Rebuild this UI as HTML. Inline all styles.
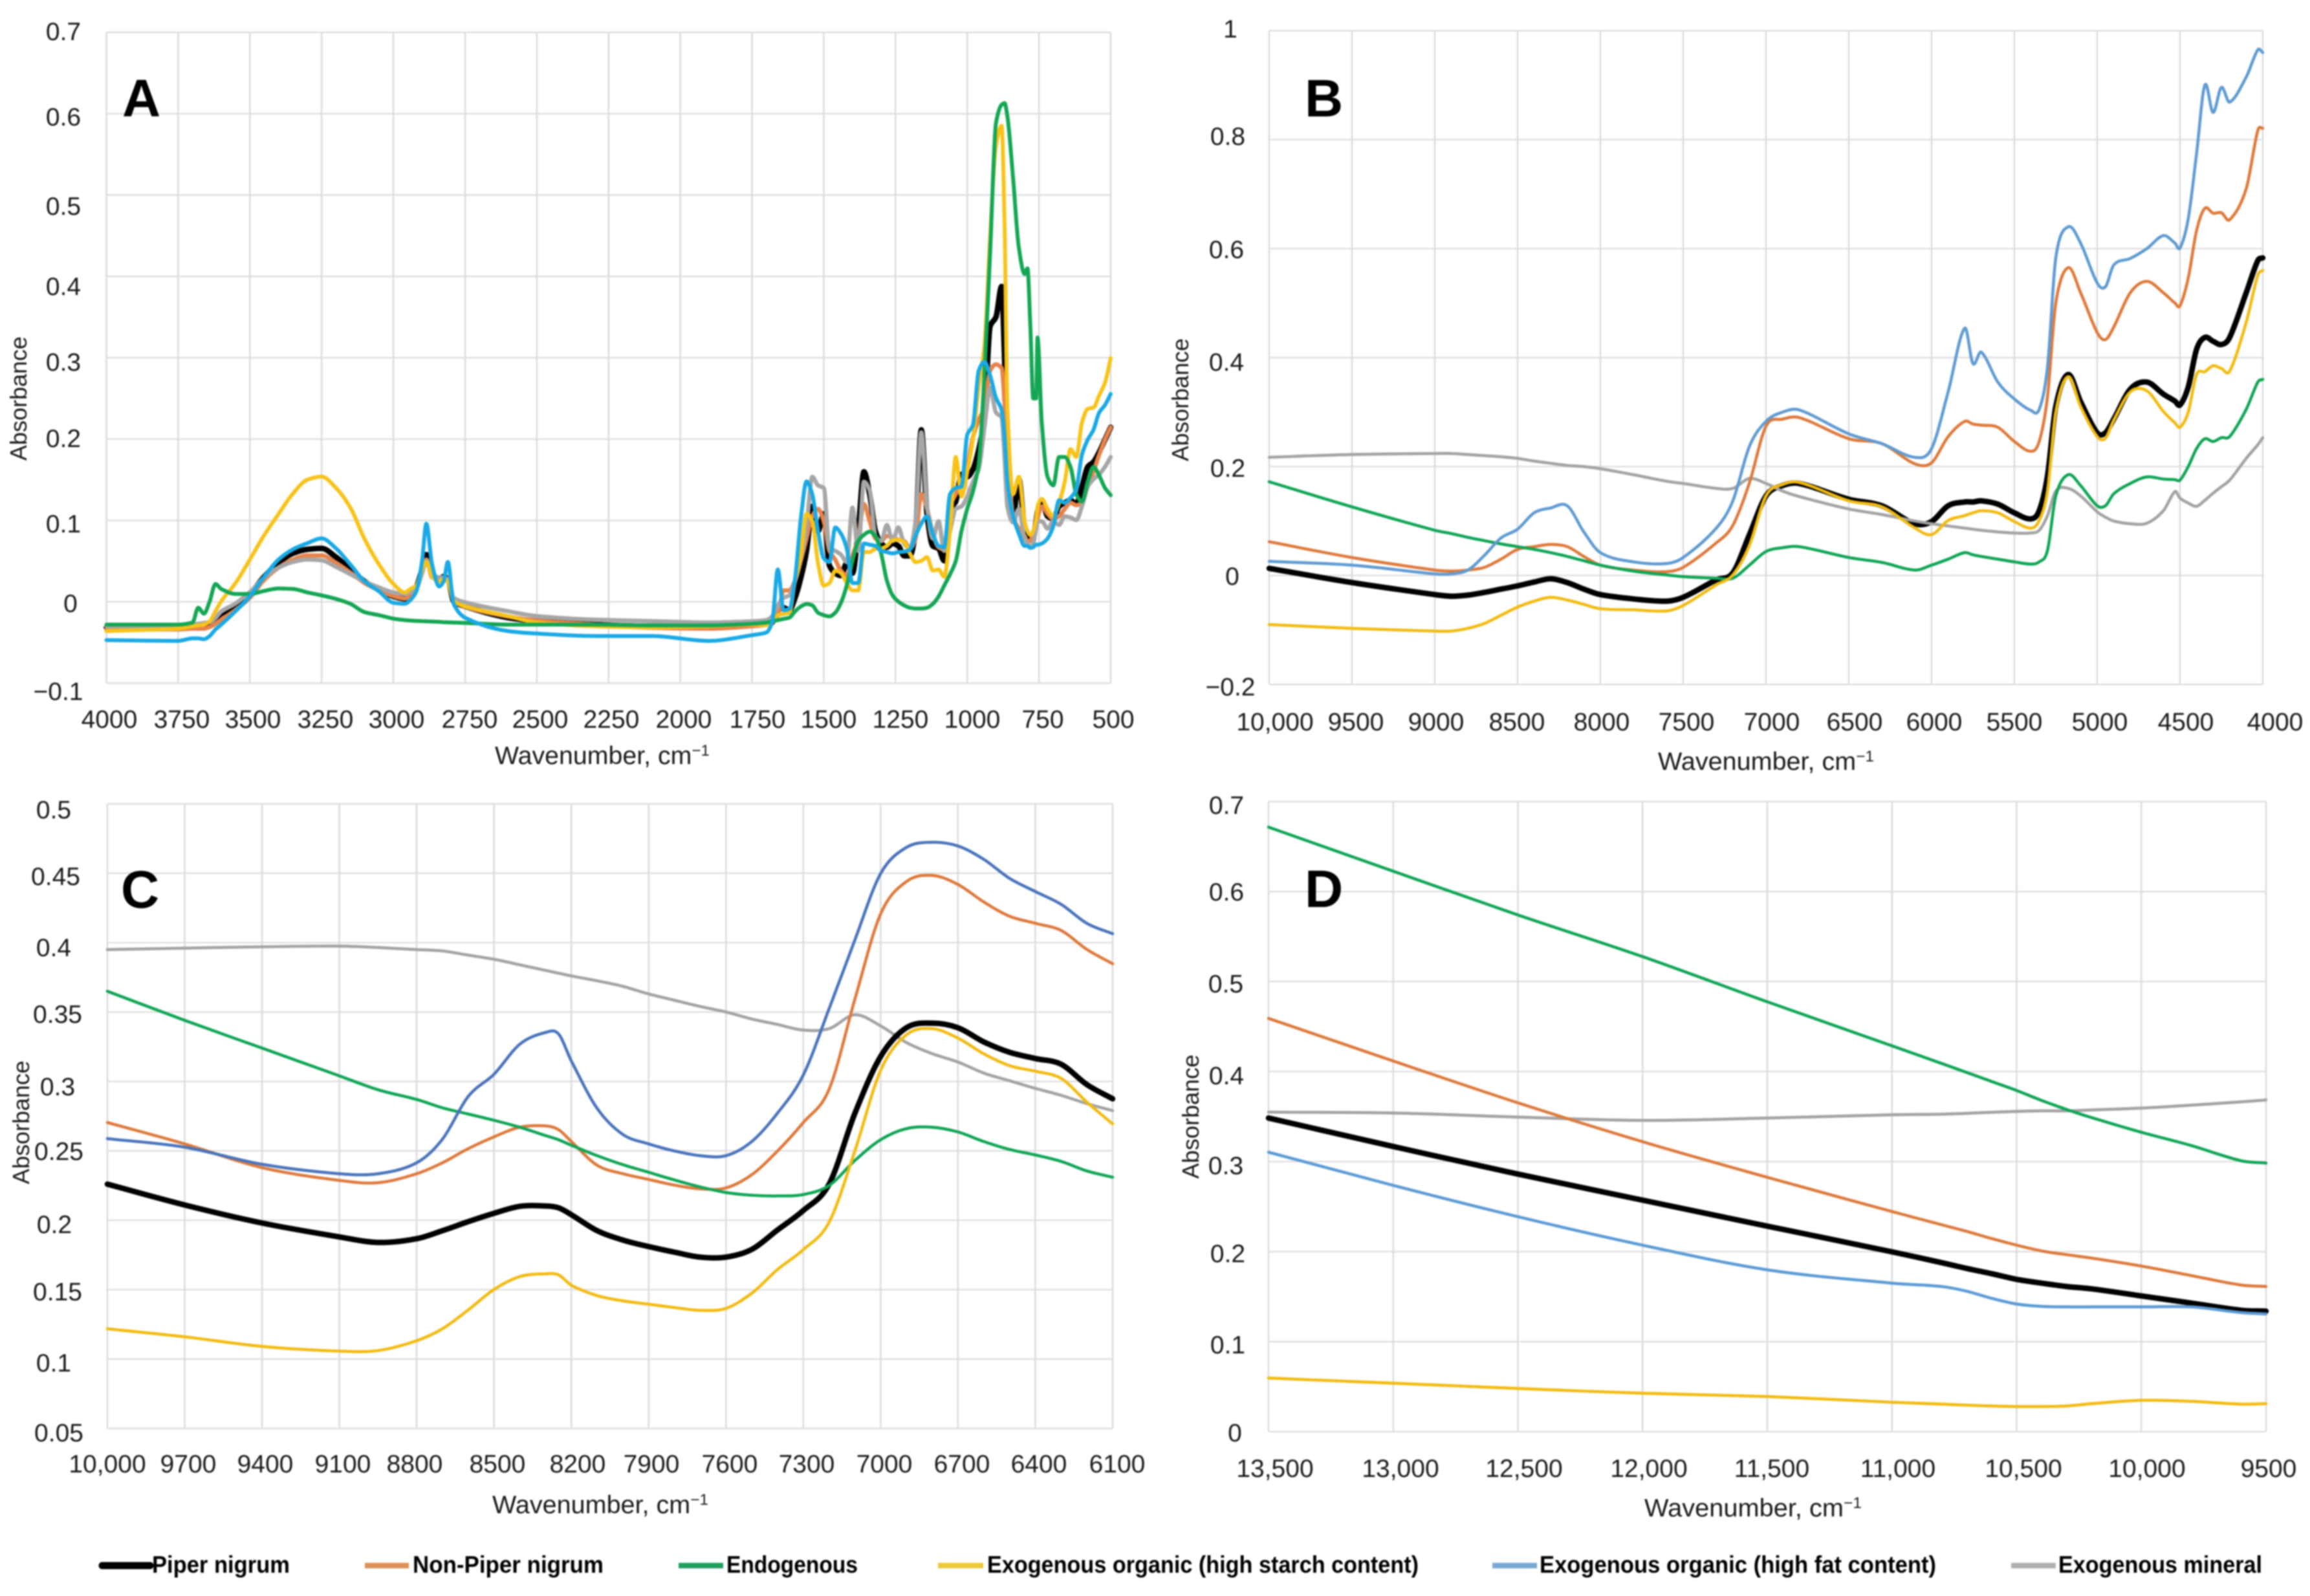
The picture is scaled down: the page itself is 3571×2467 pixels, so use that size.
<!DOCTYPE html>
<html lang="en">
<head>
<meta charset="utf-8">
<title>Absorbance spectra panels A-D</title>
<style>
html,body{margin:0;padding:0;background:#fff;}
svg{display:block;filter:blur(1px);}
text{font-family:"Liberation Sans",sans-serif;fill:#1a1a1a;}
.tick{font-size:39px;text-anchor:middle;}
.xlab{font-size:39px;}
.ylab{font-size:36px;text-anchor:middle;}
.letter{font-size:82px;font-weight:bold;fill:#000;}
.leg{font-size:37px;font-weight:bold;fill:#000;}
</style>
</head>
<body>
<svg id="figure" xmlns="http://www.w3.org/2000/svg" width="3571" height="2467" viewBox="0 0 3571 2467">
<rect width="3571" height="2467" fill="#fff"/>
<g id="panel-a"></g>
<g id="panel-b"></g>
<g id="panel-c"></g>
<g id="panel-d"></g>

<g>
<text class="letter" x="189" y="180">A</text>
<text class="tick" x="98" y="62">0.7</text>
<text class="tick" x="98" y="194">0.6</text>
<text class="tick" x="98" y="332">0.5</text>
<text class="tick" x="98" y="456">0.4</text>
<text class="tick" x="98" y="573">0.3</text>
<text class="tick" x="98" y="691">0.2</text>
<text class="tick" x="98" y="823">0.1</text>
<text class="tick" x="109" y="946">0</text>
<text class="tick" x="90" y="1082">−0.1</text>
<text class="tick" x="169" y="1125">4000</text>
<text class="tick" x="281" y="1125">3750</text>
<text class="tick" x="391" y="1125">3500</text>
<text class="tick" x="503" y="1125">3250</text>
<text class="tick" x="613" y="1125">3000</text>
<text class="tick" x="726" y="1125">2750</text>
<text class="tick" x="835" y="1125">2500</text>
<text class="tick" x="945" y="1125">2250</text>
<text class="tick" x="1057" y="1125">2000</text>
<text class="tick" x="1171" y="1125">1750</text>
<text class="tick" x="1281" y="1125">1500</text>
<text class="tick" x="1392" y="1125">1250</text>
<text class="tick" x="1503" y="1125">1000</text>
<text class="tick" x="1612" y="1125">750</text>
<text class="tick" x="1721" y="1125">500</text>
<text class="xlab" x="765" y="1181" textLength="332" lengthAdjust="spacingAndGlyphs">Wavenumber, cm<tspan font-size="24" dy="-13">−1</tspan></text>
<text class="ylab" transform="translate(41 616) rotate(-90)" textLength="192" lengthAdjust="spacingAndGlyphs">Absorbance</text>
</g>

<g>
<text class="letter" x="2017" y="180">B</text>
<text class="tick" x="1902" y="58">1</text>
<text class="tick" x="1898" y="224">0.8</text>
<text class="tick" x="1896" y="399">0.6</text>
<text class="tick" x="1896" y="573">0.4</text>
<text class="tick" x="1898" y="737">0.2</text>
<text class="tick" x="1905" y="904">0</text>
<text class="tick" x="1902" y="1075">−0.2</text>
<text class="tick" x="1971" y="1129">10,000</text>
<text class="tick" x="2096" y="1129">9500</text>
<text class="tick" x="2220" y="1129">9000</text>
<text class="tick" x="2345" y="1129">8500</text>
<text class="tick" x="2476" y="1129">8000</text>
<text class="tick" x="2607" y="1129">7500</text>
<text class="tick" x="2739" y="1129">7000</text>
<text class="tick" x="2867" y="1129">6500</text>
<text class="tick" x="2990" y="1129">6000</text>
<text class="tick" x="3114" y="1129">5500</text>
<text class="tick" x="3246" y="1129">5000</text>
<text class="tick" x="3379" y="1129">4500</text>
<text class="tick" x="3517" y="1129">4000</text>
<text class="xlab" x="2563" y="1190" textLength="334" lengthAdjust="spacingAndGlyphs">Wavenumber, cm<tspan font-size="24" dy="-13">−1</tspan></text>
<text class="ylab" transform="translate(1837 618) rotate(-90)" textLength="190" lengthAdjust="spacingAndGlyphs">Absorbance</text>
</g>

<g>
<text class="letter" x="187" y="1403">C</text>
<text class="tick" x="83" y="1265">0.5</text>
<text class="tick" x="86" y="1368">0.45</text>
<text class="tick" x="83" y="1478">0.4</text>
<text class="tick" x="89" y="1581">0.35</text>
<text class="tick" x="89" y="1693">0.3</text>
<text class="tick" x="91" y="1793">0.25</text>
<text class="tick" x="84" y="1906">0.2</text>
<text class="tick" x="89" y="2010">0.15</text>
<text class="tick" x="83" y="2120">0.1</text>
<text class="tick" x="91" y="2228">0.05</text>
<text class="tick" x="166" y="2276">10,000</text>
<text class="tick" x="291" y="2276">9700</text>
<text class="tick" x="410" y="2276">9400</text>
<text class="tick" x="530" y="2276">9100</text>
<text class="tick" x="641" y="2276">8800</text>
<text class="tick" x="769" y="2276">8500</text>
<text class="tick" x="893" y="2276">8200</text>
<text class="tick" x="1007" y="2276">7900</text>
<text class="tick" x="1128" y="2276">7600</text>
<text class="tick" x="1247" y="2276">7300</text>
<text class="tick" x="1367" y="2276">7000</text>
<text class="tick" x="1487" y="2276">6700</text>
<text class="tick" x="1606" y="2276">6400</text>
<text class="tick" x="1727" y="2276">6100</text>
<text class="xlab" x="761" y="2339" textLength="334" lengthAdjust="spacingAndGlyphs">Wavenumber, cm<tspan font-size="24" dy="-13">−1</tspan></text>
<text class="ylab" transform="translate(45 1735) rotate(-90)" textLength="191" lengthAdjust="spacingAndGlyphs">Absorbance</text>
</g>

<g>
<text class="letter" x="2017" y="1402">D</text>
<text class="tick" x="1896" y="1258">0.7</text>
<text class="tick" x="1896" y="1392">0.6</text>
<text class="tick" x="1895" y="1534">0.5</text>
<text class="tick" x="1896" y="1676">0.4</text>
<text class="tick" x="1895" y="1815">0.3</text>
<text class="tick" x="1898" y="1951">0.2</text>
<text class="tick" x="1898" y="2092">0.1</text>
<text class="tick" x="1909" y="2228">0</text>
<text class="tick" x="1971" y="2283">13,500</text>
<text class="tick" x="2165" y="2283">13,000</text>
<text class="tick" x="2356" y="2283">12,500</text>
<text class="tick" x="2549" y="2283">12,000</text>
<text class="tick" x="2739" y="2283">11,500</text>
<text class="tick" x="2934" y="2283">11,000</text>
<text class="tick" x="3128" y="2283">10,500</text>
<text class="tick" x="3319" y="2283">10,000</text>
<text class="tick" x="3507" y="2283">9500</text>
<text class="xlab" x="2542" y="2344" textLength="336" lengthAdjust="spacingAndGlyphs">Wavenumber, cm<tspan font-size="24" dy="-13">−1</tspan></text>
<text class="ylab" transform="translate(1853 1726) rotate(-90)" textLength="192" lengthAdjust="spacingAndGlyphs">Absorbance</text>
</g>

<g>
<g>
<line x1="158" x2="232" y1="2420" y2="2420" stroke="#000" stroke-width="11" stroke-linecap="round"/>
<text class="leg" x="235" y="2431" textLength="213" lengthAdjust="spacingAndGlyphs">Piper nigrum</text></g>
<g>
<line x1="564" x2="632" y1="2420" y2="2420" stroke="#dd9056" stroke-width="8.5"/>
<text class="leg" x="638" y="2431" textLength="295" lengthAdjust="spacingAndGlyphs">Non-Piper nigrum</text></g>
<g>
<line x1="1049" x2="1118" y1="2420" y2="2420" stroke="#1f9f5c" stroke-width="8.5"/>
<text class="leg" x="1123" y="2431" textLength="203" lengthAdjust="spacingAndGlyphs">Endogenous</text></g>
<g>
<line x1="1450" x2="1520" y1="2420" y2="2420" stroke="#ecc83a" stroke-width="8.5"/>
<text class="leg" x="1526" y="2431" textLength="667" lengthAdjust="spacingAndGlyphs">Exogenous organic (high starch content)</text></g>
<g>
<line x1="2307" x2="2376" y1="2420" y2="2420" stroke="#78a8d2" stroke-width="8.5"/>
<text class="leg" x="2380" y="2431" textLength="613" lengthAdjust="spacingAndGlyphs">Exogenous organic (high fat content)</text></g>
<g>
<line x1="3109" x2="3178" y1="2420" y2="2420" stroke="#b0b0b0" stroke-width="8.5"/>
<text class="leg" x="3182" y="2431" textLength="315" lengthAdjust="spacingAndGlyphs">Exogenous mineral</text></g>
</g>
</svg>

<script>
/* ---------- Panel A data ---------- */
const panelAXTicks = [4000,3750,3500,3250,3000,2750,2500,2250,2000,1750,1500,1250,1000,750,500];
const panelAYTicks = [-0.1,0,0.1,0.2,0.3,0.4,0.5,0.6,0.7];
const panelAWavenumbers = [
4000,3750,3700,3680,3660,3640,3620,3600,3550,3500,
3450,3400,3350,3300,3250,3200,3150,3100,3050,3000,
2960,2940,2920,2900,2885,2865,2840,2825,2810,2790,
2750,2600,2500,2300,2100,1900,1750,
1700,1680,1660,1640,1620,1600,1580,1560,1540,1520,
1500,1480,1460,1440,1420,1400,1380,1360,1340,1320,
1300,1280,1260,1240,1220,1200,1180,1160,1140,1120,
1100,1080,1060,1040,1020,1000,980,960,940,920,
900,880,870,860,840,820,800,790,780,770,
760,755,740,720,700,680,660,640,620,600,
580,560,540,520,500];
const panelAPiper = [
-.0316,-.0316,-.03,-.0305,-.0316,-.028,-.0207,-.0146,-.0055,.0097,
.031,.048,.0596,.0645,.0657,.055,.04,.025,.0146,.0067,
.0036,.0067,.018,.04,.058,.034,.028,.031,.028,.0006,
-.0055,-.0195,-.0237,-.028,-.03,-.03,-.028,
-.027,-.0255,-.0103,-.0073,-.0103,.0049,.0292,.0626,.1173,.0869,
.1081,.0444,.0352,.0322,.0474,.0352,.0869,.1598,.1324,.0869,
.0717,.0671,.0717,.0687,.0565,.0565,.0869,.2114,.1081,.0687,
.0656,.0504,.1142,.1233,.1567,.1537,.1628,.1871,.2266,.339,
.35,.3876,.2995,.178,.1051,.1507,.0899,.0793,.0778,.0808,
.099,.1112,.1248,.1051,.102,.1173,.1218,.1248,.1203,.1416,
.1659,.1719,.1841,.1993,.2145];
const panelANonPiper = [
-.034,-.034,-.033,-.033,-.033,-.031,-.027,-.022,-.01,.005,
.027,.042,.052,.057,.057,.048,.036,.023,.014,.007,
.004,.008,.016,.035,.052,.03,.028,.03,.025,.002,
-.006,-.018,-.023,-.028,-.032,-.033,-.03,
-.028,-.0255,-.0164,.014,.014,.0261,.0504,.0778,.1051,.1142,
.099,.0626,.0519,.0383,.0322,.0565,.0778,.1203,.099,.0778,
.0747,.0808,.0793,.0762,.0747,.0656,.0778,.1324,.1142,.0838,
.0671,.0641,.1173,.1324,.1476,.1659,.2023,.2236,.2388,.2843,
.2919,.2874,.2448,.184,.1051,.0899,.0808,.0747,.0747,.0869,
.093,.102,.1173,.1081,.102,.1051,.1142,.1218,.1188,.1218,
.1416,.1598,.181,.1993,.2145];
const panelAEndogenous = [
-.028,-.028,-.0255,-.0073,-.0146,.0006,.0219,.0158,.0097,.0097,
.0134,.0164,.0158,.0116,.0079,.0036,-.0024,-.0128,-.0164,-.0207,
-.0225,-.023,-.0235,-.0237,-.024,-.0243,-.0246,-.025,-.0252,-.0255,
-.026,-.028,-.028,-.028,-.029,-.029,-.027,
-.0255,-.024,-.0225,-.021,-.0195,-.0118,-.0058,-.0027,-.0043,-.0134,
-.0164,-.0179,-.0134,-.0012,.02,.05,.0747,.0823,.0863,.0808,
.0595,.0261,.0079,.0003,-.0043,-.0073,-.0082,-.0082,-.0073,-.0027,
.0064,.02,.0337,.05,.0869,.1142,.1355,.17,.28,.43,
.588,.611,.613,.597,.52,.435,.403,.41,.339,.25,
.25,.325,.22,.1537,.1431,.178,.178,.1659,.1324,.1233,
.1476,.1659,.1552,.14,.131];
const panelAStarch = [
-.036,-.033,-.03,-.029,-.028,-.024,-.0116,.0006,.023,.052,
.082,.108,.133,.15,.154,.14,.116,.077,.046,.022,
.0116,.016,.02,.04,.049,.031,.025,.028,.025,.0006,
-.0055,-.0176,-.0255,-.03,-.0316,-.03,-.028,
-.0286,-.0255,-.0164,-.0149,-.0134,.0261,.0565,.1081,.099,.0474,
.02,.0231,.0383,.0352,.0231,.014,.014,.0611,.0611,.065,
.0656,.0687,.0756,.0762,.0732,.0595,.0489,.0504,.055,.0383,
.0398,.0307,.0869,.178,.1294,.1598,.2,.265,.3147,.45,
.56,.585,.466,.239,.1324,.1537,.099,.0869,.0823,.0869,
.102,.1173,.1264,.1142,.1051,.1218,.1476,.1877,.178,.2205,
.2372,.2388,.2539,.2691,.2995];
const panelAFat = [
-.047,-.048,-.045,-.045,-.046,-.042,-.034,-.028,-.0116,.0067,
.031,.052,.0645,.072,.078,.0657,.046,.025,.0128,-.0012,
-.0024,.0024,.0128,.05,.096,.046,.0189,.025,.049,-.0024,
-.0195,-.036,-.039,-.042,-.042,-.048,-.041,
-.0377,-.0255,.0398,-.0103,-.0088,.029,.102,.148,.1324,.0869,
.0535,.0489,.0914,.0838,.0656,.0231,.0231,.0717,.0702,.0687,
.0626,.0611,.0595,.0611,.0617,.0641,.0808,.096,.1051,.0838,
.0687,.0671,.1324,.14,.1416,.2053,.2175,.2843,.295,.2782,
.2509,.2357,.2023,.1476,.1051,.0838,.0687,.0687,.0662,.0671,
.0702,.0702,.0717,.0778,.093,.1248,.1218,.1279,.1385,.181,
.1993,.2114,.2327,.2418,.2555];
const panelAMineral = [
-.03,-.03,-.028,-.027,-.026,-.025,-.02,-.012,-.002,.012,
.03,.042,.049,.052,.051,.043,.034,.025,.0176,.0116,
.0097,.012,.016,.035,.05,.035,.03,.03,.028,.005,
-.0006,-.0116,-.0176,-.022,-.0237,-.0255,-.024,
-.0225,-.0179,-.0043,.0049,.0079,.0261,.0535,.093,.1537,.1431,
.14,.0656,.0626,.058,.0489,.1157,.0626,.1476,.137,.0808,
.0747,.0945,.0747,.0914,.0717,.0656,.099,.2084,.1173,.0778,
.099,.0626,.0869,.1142,.1173,.1294,.1476,.1628,.2145,.2631,
.2327,.2266,.178,.1173,.0975,.1142,.0778,.0717,.0671,.0717,
.0899,.099,.099,.0899,.099,.0945,.1051,.1036,.1005,.1173,
.1416,.1507,.1567,.1659,.178];

/* ---------- Panel B data ---------- */
const panelBXTicks = [10000,9500,9000,8500,8000,7500,7000,6500,6000,5500,5000,4500,4000];
const panelBYTicks = [-0.2,0,0.2,0.4,0.6,0.8,1];
const panelBWavenumbers = [
10000,9500,9000,8900,8800,8700,8600,8500,8400,8300,
8200,8100,8000,7800,7600,7500,7300,7200,7100,7000,
6900,6800,6500,6300,6100,6000,5900,5800,5750,5700,
5600,5500,5400,5350,5300,5250,5175,5100,5000,4950,
4900,4800,4700,4600,4530,4500,4450,4400,4350,4300,
4250,4200,4100,4030,4000];
const panelBPiper = [
.013,-.013,-.035,-.038,-.036,-.031,-.025,-.019,-.012,-.006,
-.013,-.025,-.035,-.043,-.047,-.04,-.008,.005,.075,.146,
.165,.169,.14,.128,.095,.099,.128,.135,.135,.137,
.131,.115,.104,.119,.183,.31,.369,.319,.262,.262,
.287,.342,.355,.333,.32,.313,.346,.415,.437,.43,
.424,.437,.519,.578,.583];
const panelBNonPiper = [
.062,.033,.01,.008,.01,.015,.03,.048,.053,.057,
.053,.035,.019,.01,.007,.015,.06,.092,.17,.274,
.287,.29,.251,.242,.205,.207,.255,.283,.278,.276,
.272,.246,.228,.246,.328,.5,.565,.519,.446,.433,
.456,.519,.54,.519,.5,.495,.546,.633,.674,.665,
.666,.653,.71,.817,.821];
const panelBEndogenous = [
.172,.126,.083,.077,.07,.064,.058,.053,.048,.042,
.035,.027,.019,.008,.001,-.002,-.005,-.005,.019,.044,
.051,.053,.033,.024,.01,.019,.03,.042,.038,.035,
.03,.025,.021,.025,.046,.146,.185,.165,.128,.128,
.15,.169,.181,.177,.176,.175,.2,.233,.251,.246,
.253,.255,.305,.355,.36];
const panelBStarch = [
-.09,-.097,-.102,-.102,-.097,-.088,-.073,-.058,-.047,-.04,
-.045,-.053,-.061,-.063,-.065,-.055,-.017,.001,.055,.146,
.167,.171,.137,.126,.087,.075,.101,.11,.115,.119,
.115,.099,.087,.101,.155,.3,.365,.31,.255,.252,
.285,.337,.339,.301,.28,.272,.3,.369,.374,.385,
.38,.375,.465,.551,.56];
const panelBFat = [
.026,.019,.003,.003,.01,.037,.069,.085,.115,.124,
.128,.08,.042,.025,.022,.033,.087,.137,.237,.283,
.3,.304,.26,.242,.217,.233,.337,.454,.389,.41,
.355,.324,.303,.305,.383,.583,.64,.61,.537,.53,
.57,.582,.6,.624,.61,.601,.655,.774,.9,.85,
.896,.869,.915,.965,.96];
const panelBMineral = [
.217,.222,.224,.224,.222,.22,.218,.215,.21,.206,
.202,.2,.196,.185,.173,.169,.16,.16,.178,.169,
.155,.145,.122,.112,.1,.095,.091,.087,.085,.083,
.08,.078,.078,.083,.11,.155,.16,.146,.117,.107,
.1,.095,.096,.119,.154,.142,.133,.127,.138,.151,
.163,.175,.215,.24,.253];

/* ---------- Panel C data ---------- */
const panelCXTicks = [10000,9700,9400,9100,8800,8500,8200,7900,7600,7300,7000,6700,6400,6100];
const panelCYTicks = [0.05,0.1,0.15,0.2,0.25,0.3,0.35,0.4,0.45,0.5];
const panelCWavenumbers = [
10000,9700,9400,9100,8950,8800,8700,8600,8500,8400,
8300,8250,8200,8100,8000,7900,7800,7700,7600,7500,
7400,7300,7200,7100,7000,6900,6800,6700,6600,6500,
6400,6300,6200,6100];
const panelCPiper = [
.226,.211,.198,.188,.184,.1867,.1925,.199,.205,.21,
.2103,.209,.204,.1925,.1857,.181,.177,.1734,.1734,.179,
.193,.207,.226,.277,.318,.3387,.342,.3387,.3285,.321,
.3165,.3124,.2977,.2875];
const panelCNonPiper = [
.2704,.255,.2379,.2287,.227,.2335,.2414,.2516,.2601,.267,
.268,.2653,.2567,.2396,.2335,.2294,.2253,.2226,.2233,.2328,
.2499,.2704,.2943,.3592,.4207,.444,.4484,.4419,.4293,.419,
.4139,.4088,.3951,.3848];
const panelCEndogenous = [
.365,.344,.324,.304,.294,.287,.281,.2765,.272,.267,
.261,.258,.254,.2465,.24,.2345,.229,.224,.22,.218,
.2175,.2185,.225,.243,.258,.266,.267,.2636,.2567,.251,
.247,.2424,.2355,.231];
const panelCStarch = [
.1218,.116,.1091,.1057,.1061,.1132,.1218,.1354,.1501,.1594,
.1614,.1607,.1532,.1457,.1419,.1395,.1371,.1351,.1365,.1474,
.1645,.1788,.1986,.2499,.308,.3336,.338,.3312,.3199,.3114,
.3073,.3022,.2851,.2694];
const panelCFat = [
.2588,.2526,.2403,.2335,.2335,.2414,.2584,.2892,.3052,.3268,
.3353,.3343,.3148,.2806,.2618,.255,.2499,.2465,.2465,.2567,
.2772,.3046,.3524,.4019,.4498,.4686,.4723,.4696,.46,.4463,
.4368,.4276,.4139,.4064];
const panelCMineral = [
.395,.396,.397,.3975,.3965,.395,.394,.391,.388,.384,
.38,.378,.376,.3725,.3685,.363,.3585,.354,.35,.345,
.341,.337,.338,.348,.34,.328,.32,.314,.306,.3005,
.295,.29,.284,.279];

/* ---------- Panel D data ---------- */
const panelDXTicks = [13500,13000,12500,12000,11500,11000,10500,10000,9500];
const panelDYTicks = [0,0.1,0.2,0.3,0.4,0.5,0.6,0.7];
const panelDWavenumbers = [13500,13000,12500,12000,11500,11000,10800,10700,10600,10500,10400,10300,10200,10000,9800,9600,9500];
const panelDPiper = [.3484,.3168,.2862,.2572,.2283,.1998,.1877,.1813,.1755,.1692,.165,.1613,.1587,.1508,.1429,.1349,.1339];
const panelDNonPiper = [.4591,.4117,.3653,.3221,.2826,.2446,.2298,.2225,.2145,.2072,.2008,.1966,.1929,.184,.1734,.1629,.1613];
const panelDEndogenous = [.6716,.6226,.574,.5277,.4776,.4286,.409,.399,.389,.379,.368,.358,.349,.3326,.3179,.301,.2984];
const panelDStarch = [.0596,.0538,.048,.0427,.039,.0327,.0306,.0295,.0285,.0279,.0279,.0285,.0311,.0348,.0337,.0306,.0311];
const panelDFat = [.3105,.2736,.2388,.2072,.1798,.165,.1613,.156,.1481,.1418,.1392,.1386,.1386,.1386,.1386,.1323,.1307];
const panelDMineral = [.355,.354,.3495,.3458,.3484,.352,.3527,.3537,.3548,.3558,.3564,.3564,.3574,.3595,.3627,.3664,.3685];

/* ---------- Drawing ---------- */
const SVGNS = 'http://www.w3.org/2000/svg';

function linearScale(d0, d1, r0, r1) {
  return function (v) { return r0 + (v - d0) * (r1 - r0) / (d1 - d0); };
}

function smoothPath(px, py, monotone) {
  const n = Math.min(px.length, py.length);
  const d = [], m = [];
  for (let i = 0; i < n - 1; i++) d.push((py[i + 1] - py[i]) / (px[i + 1] - px[i]));
  for (let i = 0; i < n; i++) {
    if (i === 0) m.push(d[0]);
    else if (i === n - 1) m.push(d[n - 2]);
    else if (monotone) {
      if (d[i - 1] * d[i] <= 0) m.push(0);
      else m.push(2 * d[i - 1] * d[i] / (d[i - 1] + d[i]));
    } else {
      m.push((py[i + 1] - py[i - 1]) / (px[i + 1] - px[i - 1]));
    }
  }
  let s = 'M' + px[0].toFixed(1) + ' ' + py[0].toFixed(1);
  for (let i = 0; i < n - 1; i++) {
    const h = (px[i + 1] - px[i]) / 3;
    s += 'C' + (px[i] + h).toFixed(1) + ' ' + (py[i] + m[i] * h).toFixed(1) + ' ' +
      (px[i + 1] - h).toFixed(1) + ' ' + (py[i + 1] - m[i + 1] * h).toFixed(1) + ' ' +
      px[i + 1].toFixed(1) + ' ' + py[i + 1].toFixed(1);
  }
  return s;
}

function drawPanel(cfg) {
  const root = document.getElementById(cfg.id);
  const x = linearScale(cfg.xDomain[0], cfg.xDomain[1], cfg.left, cfg.right);
  const y = linearScale(cfg.yDomain[0], cfg.yDomain[1], cfg.bottom, cfg.top);

  cfg.yTicks.forEach(function (t) {
    const el = document.createElementNS(SVGNS, 'line');
    
    
    el.setAttribute('x1', cfg.left);
    el.setAttribute('x2', cfg.right);
    el.setAttribute('y1', y(t));
    el.setAttribute('y2', y(t));
    el.setAttribute('stroke', '#dcdcdc');
    el.setAttribute('stroke-width', '2.2');
    root.appendChild(el);
  });

  cfg.xTicks.forEach(function (t) {
    const el = document.createElementNS(SVGNS, 'line');
    
    
    el.setAttribute('x1', x(t));
    el.setAttribute('x2', x(t));
    el.setAttribute('y1', cfg.top);
    el.setAttribute('y2', cfg.bottom);
    el.setAttribute('stroke', '#dcdcdc');
    el.setAttribute('stroke-width', '2.6');
    root.appendChild(el);
  });

  cfg.series.forEach(function (s) {
    const px = cfg.wavenumbers.map(x);
    const py = s.values.map(y);
    const el = document.createElementNS(SVGNS, 'path');
    
    
    el.setAttribute('d', smoothPath(px, py, cfg.monotone));
    el.setAttribute('fill', 'none');
    el.setAttribute('stroke', s.color);
    el.setAttribute('stroke-width', s.width);
    el.setAttribute('stroke-linejoin', 'round');
    el.setAttribute('stroke-linecap', 'round');
    root.appendChild(el);
  });
}

drawPanel({
  id: 'panel-a', left: 164.5, right: 1717, top: 50, bottom: 1056, monotone: true,
  xDomain: [4000, 500], yDomain: [-0.1, 0.7],
  xTicks: panelAXTicks, yTicks: panelAYTicks, wavenumbers: panelAWavenumbers,
  series: [
    { key: 'piper-nigrum', values: panelAPiper, color: '#000000', width: 8.5 },
    { key: 'non-piper-nigrum', values: panelANonPiper, color: '#e8834a', width: 6.5 },
    { key: 'exogenous-mineral', values: panelAMineral, color: '#a6a6a6', width: 6.5 },
    { key: 'exogenous-starch', values: panelAStarch, color: '#f7c31a', width: 6 },
    { key: 'endogenous', values: panelAEndogenous, color: '#14a654', width: 6 },
    { key: 'exogenous-fat', values: panelAFat, color: '#1aa9e4', width: 6 }
  ]
});

drawPanel({
  id: 'panel-b', left: 1962, right: 3498, top: 47.5, bottom: 1058, monotone: false,
  xDomain: [10000, 4000], yDomain: [-0.2, 1],
  xTicks: panelBXTicks, yTicks: panelBYTicks, wavenumbers: panelBWavenumbers,
  series: [
    { key: 'piper-nigrum', values: panelBPiper, color: '#000000', width: 8.5 },
    { key: 'exogenous-mineral', values: panelBMineral, color: '#a3a3a3', width: 4.6 },
    { key: 'non-piper-nigrum', values: panelBNonPiper, color: '#dd7a3c', width: 4.6 },
    { key: 'endogenous', values: panelBEndogenous, color: '#10a556', width: 4.6 },
    { key: 'exogenous-starch', values: panelBStarch, color: '#f2bb12', width: 4.6 },
    { key: 'exogenous-fat', values: panelBFat, color: '#5f9bd1', width: 4.6 }
  ]
});

drawPanel({
  id: 'panel-c', left: 166, right: 1720, top: 1242.5, bottom: 2208, monotone: false,
  xDomain: [10000, 6100], yDomain: [0.05, 0.5],
  xTicks: panelCXTicks, yTicks: panelCYTicks, wavenumbers: panelCWavenumbers,
  series: [
    { key: 'exogenous-mineral', values: panelCMineral, color: '#a3a3a3', width: 4.6 },
    { key: 'piper-nigrum', values: panelCPiper, color: '#000000', width: 8.5 },
    { key: 'non-piper-nigrum', values: panelCNonPiper, color: '#dd7a3c', width: 4.6 },
    { key: 'endogenous', values: panelCEndogenous, color: '#10a556', width: 4.6 },
    { key: 'exogenous-starch', values: panelCStarch, color: '#f2bb12', width: 4.6 },
    { key: 'exogenous-fat', values: panelCFat, color: '#4a74bb', width: 4.6 }
  ]
});

drawPanel({
  id: 'panel-d', left: 1961, right: 3503, top: 1239, bottom: 2213, monotone: false,
  xDomain: [13500, 9500], yDomain: [0, 0.7],
  xTicks: panelDXTicks, yTicks: panelDYTicks, wavenumbers: panelDWavenumbers,
  series: [
    { key: 'exogenous-mineral', values: panelDMineral, color: '#a3a3a3', width: 4.6 },
    { key: 'piper-nigrum', values: panelDPiper, color: '#000000', width: 8.5 },
    { key: 'non-piper-nigrum', values: panelDNonPiper, color: '#dd7a3c', width: 4.6 },
    { key: 'endogenous', values: panelDEndogenous, color: '#10a556', width: 4.6 },
    { key: 'exogenous-starch', values: panelDStarch, color: '#f2bb12', width: 4.6 },
    { key: 'exogenous-fat', values: panelDFat, color: '#5b9bd5', width: 4.6 }
  ]
});
</script>
</body>
</html>
